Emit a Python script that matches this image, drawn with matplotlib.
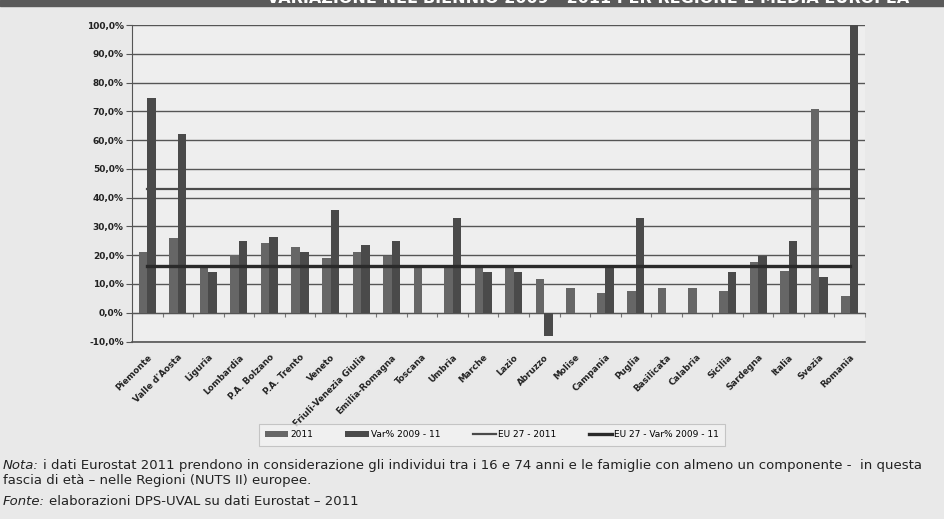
import numpy as np
import matplotlib
matplotlib.use("Agg")
import matplotlib.pyplot as plt
from matplotlib.patches import Rectangle

# dati (valori in %)
regioni = ["Piemonte", "Valle d'Aosta", "Liguria", "Lombardia", "P.A. Bolzano",
           "P.A. Trento", "Veneto", "Friuli-Venezia Giulia", "Emilia-Romagna",
           "Toscana", "Umbria", "Marche", "Lazio", "Abruzzo", "Molise",
           "Campania", "Puglia", "Basilicata", "Calabria", "Sicilia",
           "Sardegna", "Italia", "Svezia", "Romania"]
val_2011 = [21.0, 26.1, 16.0, 19.9, 24.1, 22.9, 19.0, 21.0, 19.8, 15.6, 15.6,
            15.6, 15.6, 11.6, 8.7, 6.7, 7.5, 8.7, 8.7, 7.5, 17.7, 14.5, 70.7, 5.8]
var_0911 = [74.7, 62.2, 14.3, 25.0, 26.3, 21.0, 35.7, 23.4, 25.0, 0.0, 33.0,
            14.0, 14.0, -8.0, 0.0, 15.6, 33.0, 0.0, 0.0, 14.0, 19.7, 25.0, 12.5, 100.0]
eu_2011 = 43.0
eu_var = 16.3

yticks = np.arange(-10, 101, 10)

bg = "#e9e9e9"
fig = plt.figure(figsize=(9.45, 5.19), dpi=100, facecolor=bg)
ax = fig.add_axes([0.1397, 0.342, 0.7756, 0.6098])
ax.set_facecolor("#eeeeee")

x = np.arange(len(regioni))
w = 0.28
b1 = ax.bar(x - w / 2, val_2011, w, color="#666666", label="2011", zorder=2)
b2 = ax.bar(x + w / 2, var_0911, w, color="#4a4a4a", label="Var% 2009 - 11", zorder=2)
l1, = ax.plot([x[0], x[-1]], [eu_2011, eu_2011], color="#4a4a4a", lw=1.6,
              label="EU 27 - 2011", zorder=3)
l2, = ax.plot([x[0], x[-1]], [eu_var, eu_var], color="#2a2a2a", lw=2.4,
              label="EU 27 - Var% 2009 - 11", zorder=3)

ax.set_xlim(-0.5, len(regioni) - 0.5)
ax.set_ylim(-10, 100)
ax.set_yticks(yticks)
ax.set_yticklabels([f"{v:.1f}%".replace(".", ",") for v in yticks],
                   fontsize=6.5, fontweight="bold", color="#222222")
ax.yaxis.grid(True, color="#555555", lw=1.0, zorder=1)
ax.tick_params(axis="y", length=4, color="#555555", pad=2)

ax.set_xticks(x)
ax.set_xticklabels(regioni, rotation=45, ha="right", rotation_mode="anchor",
                   fontsize=6.3, fontweight="bold", color="#222222")
ax.tick_params(axis="x", length=0, pad=8)

for s in ["top", "right"]:
    ax.spines[s].set_visible(False)
ax.spines["left"].set_color("#555555")
ax.spines["bottom"].set_color("#555555")
ax.spines["bottom"].set_linewidth(1.2)

# asse delle categorie sulla linea dello zero
sec = ax.secondary_xaxis(10 / 110)
sec.set_xticks(np.arange(len(regioni) + 1) - 0.5)
sec.set_xticklabels([])
sec.tick_params(length=3, color="#777777", direction="out")
sec.spines["bottom"].set_color("#555555")

leg = ax.legend([b1, b2, l1, l2], ["2011", "Var% 2009 - 11", "EU 27 - 2011", "EU 27 - Var% 2009 - 11"],
                loc="center", bbox_to_anchor=(0.491, -0.295), ncol=4,
                fontsize=6.5, frameon=True, fancybox=False, edgecolor="#bbbbbb",
                handlelength=2.6, handletextpad=0.2, columnspacing=3.6,
                borderpad=0.7)
leg.get_frame().set_facecolor("#f3f3f3")
leg.get_frame().set_linewidth(0.8)

# titolo tagliato in alto
fig.patches.append(Rectangle((0, 1 - 6 / 519), 1, 6 / 519, transform=fig.transFigure,
                             color="#5a5a5a", zorder=0))
fig.text(0.622, 1 - 3 / 519, "VARIAZIONE NEL BIENNIO 2009 - 2011 PER REGIONE E MEDIA EUROPEA",
         ha="center", va="baseline", color="white", fontsize=11.5, fontweight="bold")

# note in fondo
fs = 9.5
t1 = fig.text(0.003, 1 - 469 / 519, "Nota:", fontsize=fs, style="italic", color="#222222")
ax.annotate("i dati Eurostat 2011 prendono in considerazione gli individui tra i 16 e 74 anni "
            "e le famiglie con almeno un componente -  in questa",
            xy=(1, 0), xycoords=t1, xytext=(3, 0), textcoords="offset points",
            va="bottom", fontsize=fs, color="#222222", annotation_clip=False)
fig.text(0.003, 1 - 484 / 519, "fascia di età – nelle Regioni (NUTS II) europee.",
         fontsize=fs, color="#222222")
t2 = fig.text(0.003, 1 - 505 / 519, "Fonte:", fontsize=fs, style="italic", color="#222222")
ax.annotate("elaborazioni DPS-UVAL su dati Eurostat – 2011",
            xy=(1, 0), xycoords=t2, xytext=(3, 0), textcoords="offset points",
            va="bottom", fontsize=fs, color="#222222", annotation_clip=False)

fig.savefig("out.png", dpi=100, facecolor=bg)
